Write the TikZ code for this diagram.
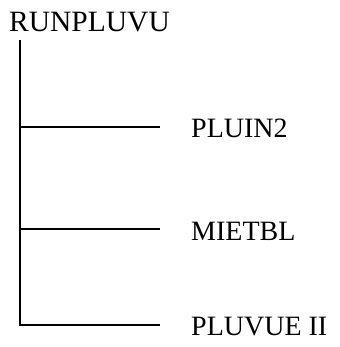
\documentclass[tikz,border=0pt]{standalone}
\usepackage{fontspec}
\setmainfont{Liberation Serif}
\begin{document}
\begin{tikzpicture}[x=1pt,y=-1pt,
  lbl/.style={anchor=base west,inner sep=0pt,font=\fontsize{28}{30}\selectfont},
  branch/.style={draw=black,line width=1.1pt}]
\useasboundingbox (0,0) rectangle (339,347);
\node[lbl,font=\fontsize{29.5}{31}\selectfont] (root) at (9,32) {RUNPLUVU};
\node[lbl] (c1) at (191,138) {PLUIN2};
\node[lbl] (c2) at (191,240) {MIETBL};
\node[lbl] (c3) at (191,335.5) {PLUVUE II};
\coordinate (top) at (20,40);
\coordinate (j1) at (20,127);
\coordinate (j2) at (20,229);
\coordinate (e1) at (160,127);
\coordinate (e2) at (160,229);
\coordinate (e3) at (160,325);
\draw[branch] (top) |- (e3);
\draw[branch] (j1) -- (e1);
\draw[branch] (j2) -- (e2);
\end{tikzpicture}
\end{document}
